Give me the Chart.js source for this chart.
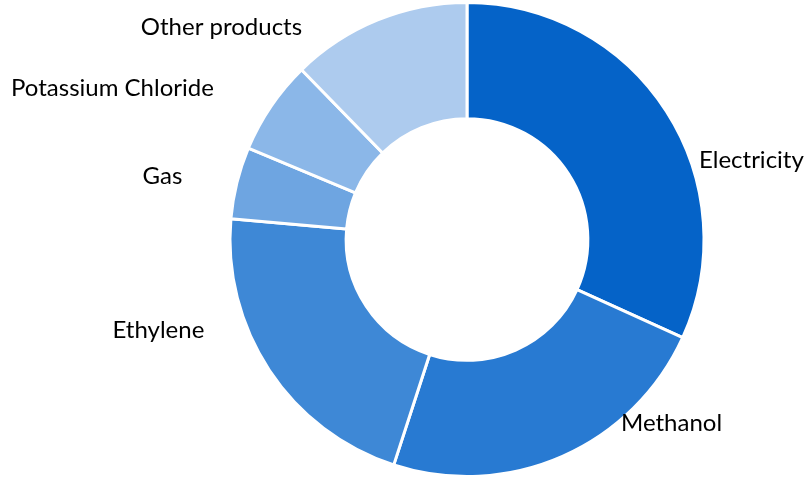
<!DOCTYPE html>
<html>
<head>
<meta charset="utf-8">
<script src="https://cdn.jsdelivr.net/npm/chart.js@4.4.0/dist/chart.umd.min.js"></script>
<style>
  html, body { margin: 0; padding: 0; background: #ffffff; }
  #wrap { width: 809px; height: 479px; position: relative; }
</style>
</head>
<body>
<div id="wrap"><canvas id="c" width="809" height="479"></canvas></div>
<script>
const categories = ["Electricity", "Methanol", "Ethylene", "Gas", "Potassium Chloride", "Other products"];
const shares = [31.8, 23.2, 21.4, 4.9, 6.4, 12.3];
const sliceColors = ["#0563C8", "#287AD2", "#3E88D6", "#6EA5E1", "#8BB7E8", "#ADCBEE"];

// label placement relative to doughnut centre, in units of outer radius
const labelOffsets = [
  [1.200, -0.333],
  [0.863, 0.776],
  [-1.302, 0.384],
  [-1.285, -0.266],
  [-1.496, -0.637],
  [-1.036, -0.895]
];

const outsideLabels = {
  id: 'outsideLabels',
  afterDatasetsDraw(chart) {
    const meta = chart.getDatasetMeta(0);
    if (!meta.data.length) return;
    const arc0 = meta.data[0];
    const cx = arc0.x, cy = arc0.y, r = arc0.outerRadius;
    const ctx = chart.ctx;
    ctx.save();
    ctx.fillStyle = '#000000';
    ctx.font = '24px Lato, "Open Sans", sans-serif';
    ctx.textAlign = 'center';
    ctx.textBaseline = 'middle';
    chart.data.labels.forEach((lab, i) => {
      const o = labelOffsets[i];
      ctx.fillText(lab, cx + o[0] * r, cy + o[1] * r);
    });
    ctx.restore();
  }
};

new Chart(document.getElementById('c'), {
  type: 'doughnut',
  data: {
    labels: categories,
    datasets: [{
      data: shares,
      backgroundColor: sliceColors,
      borderColor: '#ffffff',
      borderWidth: 3,
      hoverOffset: 0
    }]
  },
  options: {
    responsive: false,
    animation: false,
    cutout: '51%',
    rotation: 0,
    layout: { padding: { left: 125, right: 0, top: 1, bottom: 1 } },
    plugins: {
      legend: { display: false },
      tooltip: { enabled: false },
      title: { display: false }
    }
  },
  plugins: [outsideLabels]
});
</script>
</body>
</html>
